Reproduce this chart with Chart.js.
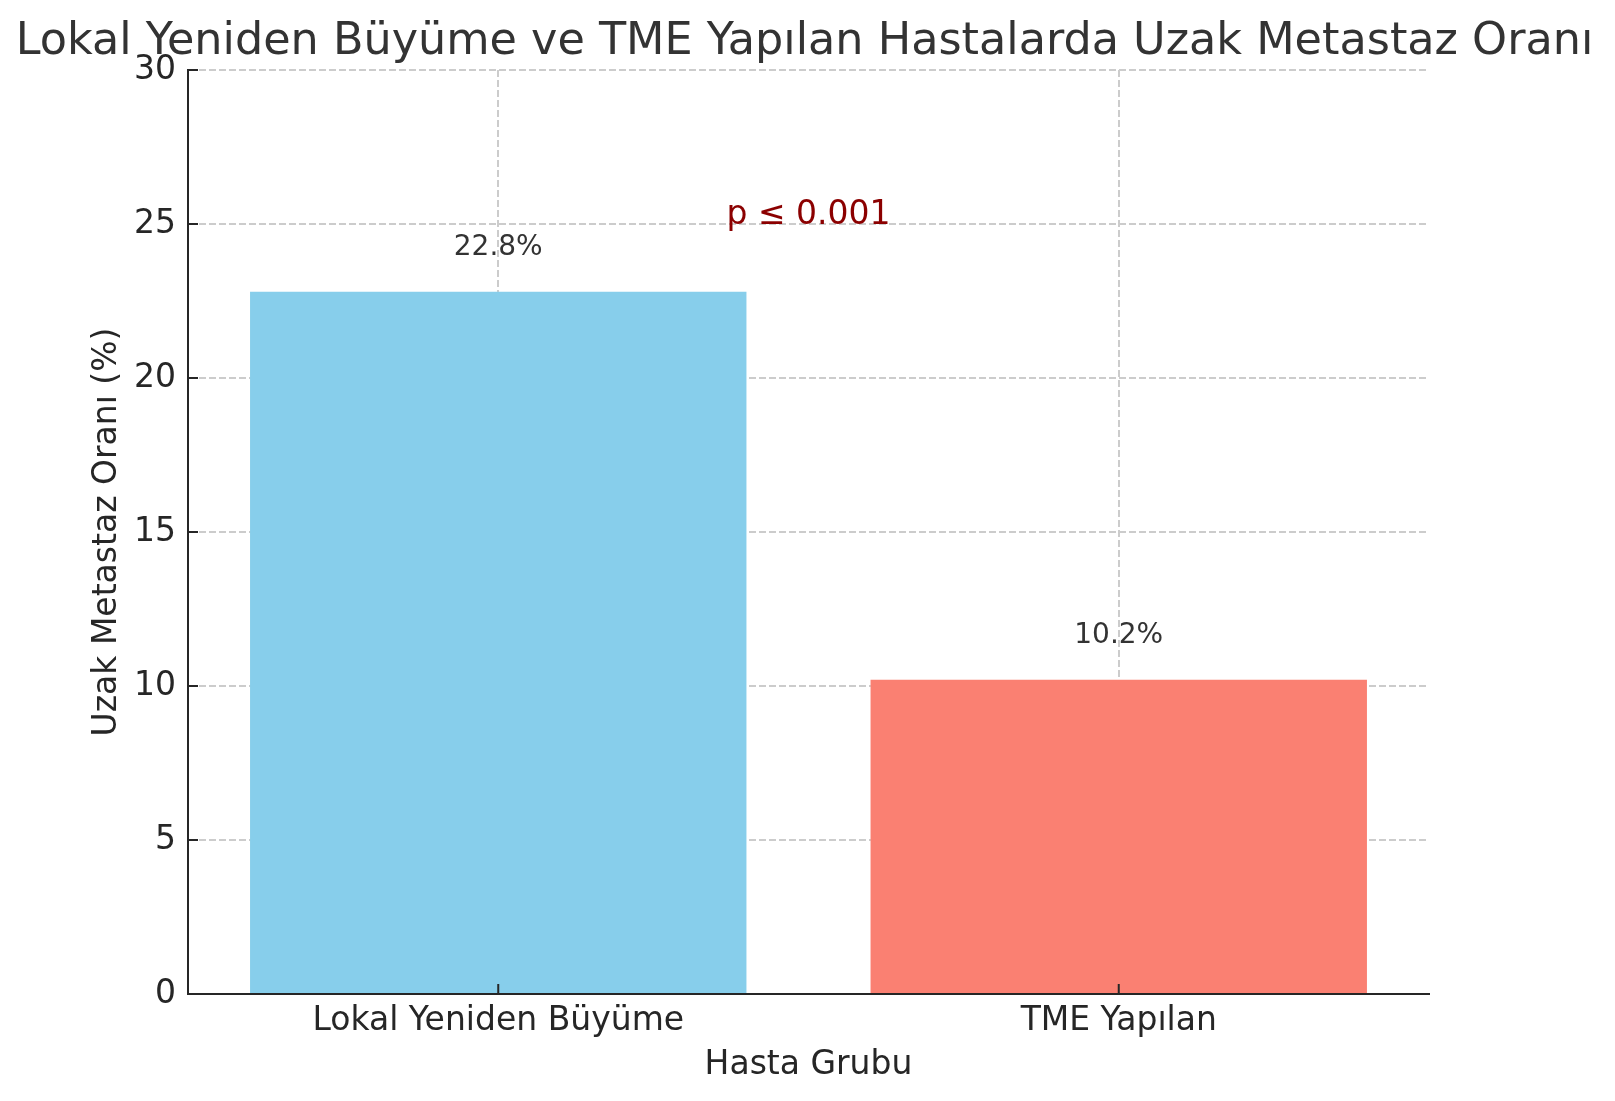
<!DOCTYPE html>
<html>
<head>
<meta charset="utf-8">
<script src="https://cdn.jsdelivr.net/npm/chart.js@4.4.1/dist/chart.umd.min.js"></script>
<style>
  body { margin: 0; background: #fff; }
  canvas { display: block; }
</style>
</head>
<body>
<canvas id="chart" width="1615" height="1101"></canvas>
<script>
var groups = ['Lokal Yeniden Büyüme', 'TME Yapılan'];
var rates = [22.8, 10.2];
var barColors = ['#87CEEB', '#FA8072'];
var yTicks = [0, 5, 10, 15, 20, 25, 30];
var pText = 'p ≤ 0.001';
var pLevel = 25;

var font = 'DejaVu Sans';

// titles, bar labels, p value and inward tick marks
var extras = {
    id: 'extras',
    afterDraw: function (chart) {
        var ctx = chart.ctx;
        var x = chart.scales.x, y = chart.scales.y;
        var area = chart.chartArea;
        var midX = (area.left + area.right) / 2;
        ctx.save();

        ctx.fillStyle = '#333333';
        ctx.textAlign = 'center';
        ctx.textBaseline = 'alphabetic';
        ctx.font = '44.5px "' + font + '"';
        ctx.fillText('Lokal Yeniden Büyüme ve TME Yapılan Hastalarda Uzak Metastaz Oranı', midX - 4, 54);

        ctx.fillStyle = '#262626';
        ctx.font = '33px "' + font + '"';
        ctx.fillText('Hasta Grubu', midX, 1074);

        ctx.save();
        ctx.translate(116, (area.top + area.bottom) / 2);
        ctx.rotate(-Math.PI / 2);
        ctx.fillText('Uzak Metastaz Oranı (%)', 0, 0);
        ctx.restore();

        ctx.fillStyle = '#333333';
        ctx.font = '28px "' + font + '"';
        for (var i = 0; i < rates.length; i++) {
            ctx.fillText(rates[i].toFixed(1) + '%', x.getPixelForValue(i), y.getPixelForValue(rates[i] + 1) - 6);
        }

        ctx.fillStyle = '#8B0000';
        ctx.font = '33px "' + font + '"';
        ctx.fillText(pText, (x.getPixelForValue(0) + x.getPixelForValue(1)) / 2, y.getPixelForValue(pLevel));

        ctx.strokeStyle = '#262626';
        ctx.lineWidth = 2;
        ctx.beginPath();
        for (var j = 0; j < yTicks.length; j++) {
            var py = y.getPixelForValue(yTicks[j]);
            ctx.moveTo(area.left, py);
            ctx.lineTo(area.left + 10, py);
        }
        for (var k = 0; k < groups.length; k++) {
            var px = x.getPixelForValue(k);
            ctx.moveTo(px, area.bottom);
            ctx.lineTo(px, area.bottom - 10);
        }
        ctx.stroke();
        ctx.restore();
    }
};

new Chart(document.getElementById('chart').getContext('2d'), {
    type: 'bar',
    data: {
        labels: groups,
        datasets: [{
            data: rates,
            backgroundColor: barColors,
            borderWidth: 0,
            barPercentage: 0.8,
            categoryPercentage: 1.0
        }]
    },
    options: {
        responsive: false,
        animation: false,
        devicePixelRatio: 1,
        layout: { padding: { left: 0, top: 70, right: 186, bottom: 0 } },
        plugins: {
            legend: { display: false },
            title: { display: false },
            tooltip: { enabled: false }
        },
        scales: {
            x: {
                z: 1,
                offset: true,
                grid: { offset: false, color: '#cccccc', lineWidth: 2, drawTicks: false },
                border: { color: '#262626', width: 2, dash: [7, 3] },
                ticks: { color: '#262626', font: { family: font, size: 33 }, padding: 8 },
                afterFit: function (s) { s.height = 107; }
            },
            y: {
                z: 1,
                min: 0,
                max: 30,
                afterBuildTicks: function (s) { s.ticks = yTicks.map(function (v) { return { value: v }; }); },
                grid: { color: '#cccccc', lineWidth: 2, drawTicks: false },
                border: { color: '#262626', width: 2, dash: [7, 3] },
                ticks: { color: '#262626', font: { family: font, size: 33 }, padding: 12 },
                afterFit: function (s) { s.width = 188; }
            }
        }
    },
    plugins: [extras]
});
</script>
</body>
</html>
